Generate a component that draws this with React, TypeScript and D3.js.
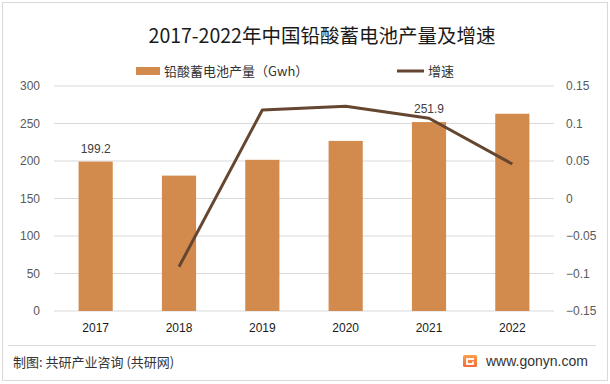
import React from "react";
import * as d3 from "d3";

const years = ["2017", "2018", "2019", "2020", "2021", "2022"];
const production = [199.2, 180.5, 201.6, 226.8, 251.9, 263.0];
const growth: (number | null)[] = [null, -0.091, 0.118, 0.123, 0.107, 0.046];
const leftTicks = [0, 50, 100, 150, 200, 250, 300];
const rightTicks = [-0.15, -0.1, -0.05, 0, 0.05, 0.1, 0.15];
const labelledYears = ["2017", "2021"];

const W = 610;
const H = 384;
const FONT = "'Liberation Sans', 'Noto Sans CJK SC', sans-serif";
const CJK = "'Noto Sans CJK SC', 'Liberation Sans', sans-serif";

export default function App() {
  const x = d3.scaleBand<string>().domain(years).range([54, 554]).paddingInner(0.59).paddingOuter(0.295);
  const yL = d3.scaleLinear().domain([0, 300]).range([311, 86]);
  const yR = d3.scaleLinear().domain([-0.15, 0.15]).range([311, 86]);
  const pts = years
    .map((yr, i) => ({ yr, g: growth[i] }))
    .filter((d) => d.g !== null) as { yr: string; g: number }[];
  const line = d3
    .line<{ yr: string; g: number }>()
    .x((d) => (x(d.yr) as number) + x.bandwidth() / 2)
    .y((d) => yR(d.g));

  return (
    <svg width={W} height={H} style={{ position: "absolute", left: 0, top: 0, background: "#fff" }}>
      <defs>
        <linearGradient id="logoG" x1="0" y1="0" x2="0" y2="1">
          <stop offset="0%" stopColor="#f9a04a" />
          <stop offset="100%" stopColor="#f26a3c" />
        </linearGradient>
      </defs>
      <rect x={2.5} y={2.5} width={605} height={378} fill="#fff" stroke="#d9d9d9" strokeWidth={1} />
      <text x={322} y={43} textAnchor="middle" fontFamily={CJK} fontSize={19.5} fill="#1a1a1a">
        2017-2022年中国铅酸蓄电池产量及增速
      </text>
      {/* legend */}
      <rect x={136} y={67} width={24} height={8} fill="#d38b4d" />
      <text x={164} y={76} fontFamily={CJK} fontSize={13} fill="#333">
        铅酸蓄电池产量（Gwh）
      </text>
      <line x1={397} x2={424} y1={71} y2={71} stroke="#654630" strokeWidth={3} />
      <text x={428} y={76} fontFamily={CJK} fontSize={13} fill="#333">
        增速
      </text>
      {/* grid */}
      {leftTicks.map((t) => (
        <line key={t} x1={54} x2={554} y1={yL(t)} y2={yL(t)} stroke="#d9d9d9" strokeWidth={1} />
      ))}
      {leftTicks.map((t) => (
        <text key={"l" + t} x={40} y={yL(t) + 4} textAnchor="end" fontFamily={FONT} fontSize={12} fill="#595959">
          {t}
        </text>
      ))}
      {rightTicks.map((t) => (
        <text key={"r" + t} x={566} y={yR(t) + 4} textAnchor="start" fontFamily={FONT} fontSize={12} fill="#595959">
          {d3.format("~g")(t)}
        </text>
      ))}
      {/* bars */}
      {years.map((yr, i) => (
        <rect
          key={yr}
          x={x(yr)}
          y={yL(production[i])}
          width={x.bandwidth()}
          height={yL(0) - yL(production[i])}
          fill="#d38b4d"
        />
      ))}
      {years.map((yr, i) =>
        labelledYears.includes(yr) ? (
          <text
            key={"v" + yr}
            x={(x(yr) as number) + x.bandwidth() / 2}
            y={yL(production[i]) - 9}
            textAnchor="middle"
            fontFamily={FONT}
            fontSize={12}
            fill="#404040"
          >
            {production[i]}
          </text>
        ) : null
      )}
      <path d={line(pts) || ""} fill="none" stroke="#654630" strokeWidth={3} strokeLinejoin="round" />
      {years.map((yr) => (
        <text
          key={"x" + yr}
          x={(x(yr) as number) + x.bandwidth() / 2}
          y={332}
          textAnchor="middle"
          fontFamily={FONT}
          fontSize={12}
          fill="#1a1a1a"
        >
          {yr}
        </text>
      ))}
      {/* footer */}
      <line x1={8} x2={596} y1={345.5} y2={345.5} stroke="#d9d9d9" strokeWidth={1} />
      <text x={13} y={367} fontFamily={CJK} fontSize={13} fill="#333">
        制图: 共研产业咨询 (共研网)
      </text>
      <rect x={463} y={355} width={14} height={12} rx={1.5} fill="url(#logoG)" />
      <path d="M466,358 h8 v2 h-6 v3 h4 v-1.5 h2 v3.5 h-8 z" fill="#fff" opacity={0.9} />
      <text x={486} y={366} fontFamily={FONT} fontSize={14} fill="#333">
        www.gonyn.com
      </text>
    </svg>
  );
}
